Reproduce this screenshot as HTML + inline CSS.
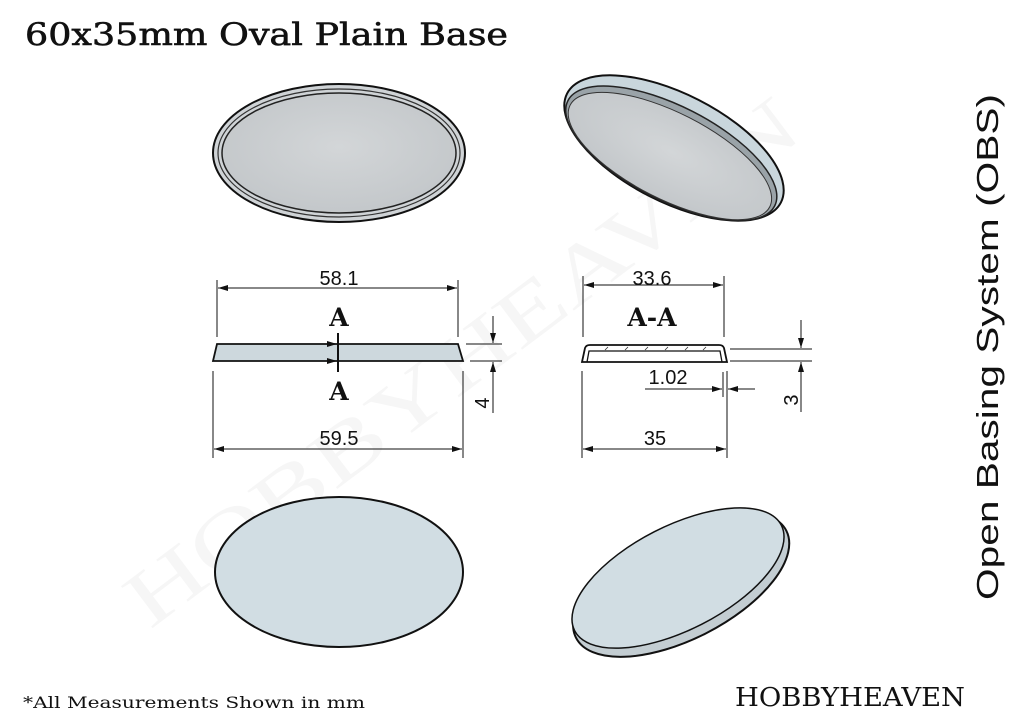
<!DOCTYPE html>
<html><head><meta charset="utf-8"><style>
html,body{margin:0;padding:0;background:#fff;}
svg{display:block;}
</style></head><body>
<svg width="1024" height="724" viewBox="0 0 1024 724" xmlns="http://www.w3.org/2000/svg">
<defs>
<marker id="ar" viewBox="0 0 10 6" refX="10" refY="3" markerWidth="10" markerHeight="6" markerUnits="userSpaceOnUse" orient="auto-start-reverse"><path d="M0,0 L10,3 L0,6 z" fill="#111"/></marker>
<radialGradient id="g1" cx="50%" cy="45%" r="60%"><stop offset="0" stop-color="#d3d6d8"/><stop offset="1" stop-color="#c2c6c9"/></radialGradient>
</defs>
<rect width="1024" height="724" fill="#fff"/>
<text x="0" y="0" transform="translate(150,630) rotate(-37)" font-family="Liberation Serif, serif" font-size="80" fill="#f6f6f6" textLength="820" lengthAdjust="spacingAndGlyphs">HOBBYHEAVEN</text>

<text x="25" y="45" font-family="DejaVu Serif, Liberation Serif, serif" font-size="31" fill="#111" stroke="#111" stroke-width="0.6" textLength="483" lengthAdjust="spacingAndGlyphs">60x35mm Oval Plain Base</text>

<ellipse cx="339" cy="153" rx="126" ry="69" fill="#cfd3d6" stroke="#111" stroke-width="2"/>
<ellipse cx="339" cy="153" rx="121" ry="64" fill="none" stroke="#333" stroke-width="1.2"/>
<ellipse cx="339" cy="153" rx="117" ry="60" fill="url(#g1)" stroke="#222" stroke-width="1.5"/>

<g transform="translate(674,148) rotate(27)">
<ellipse cx="0" cy="0" rx="120" ry="54" fill="#c9d6dc" stroke="#111" stroke-width="2"/>
<ellipse cx="0" cy="6" rx="116" ry="47" fill="#9aa3a8" stroke="#222" stroke-width="1.5"/>
<ellipse cx="0" cy="9" rx="112" ry="43" fill="url(#g1)" stroke="#333" stroke-width="1"/>
</g>

<polygon points="217,344 458,344 463,361 213,361" fill="#cdd8dd" stroke="#111" stroke-width="1.8"/>
<g stroke="#111" stroke-width="1" fill="none">
<line x1="217" y1="280" x2="217" y2="337"/><line x1="458" y1="280" x2="458" y2="337"/>
<line x1="218" y1="288" x2="457" y2="288" marker-start="url(#ar)" marker-end="url(#ar)"/>
<line x1="213" y1="371" x2="213" y2="458"/><line x1="463" y1="371" x2="463" y2="458"/>
<line x1="214" y1="449" x2="462" y2="449" marker-start="url(#ar)" marker-end="url(#ar)"/>
<line x1="338" y1="333" x2="338" y2="372" stroke-width="2"/>
<line x1="318" y1="344" x2="337" y2="344" marker-end="url(#ar)"/>
<line x1="318" y1="361" x2="337" y2="361" marker-end="url(#ar)"/>
<line x1="466" y1="344" x2="502" y2="344"/><line x1="470" y1="361" x2="502" y2="361"/>
<line x1="493" y1="316" x2="493" y2="343" marker-end="url(#ar)"/>
<line x1="493" y1="413" x2="493" y2="362" marker-end="url(#ar)"/>
</g>
<g font-family="Liberation Sans, sans-serif" font-size="20" fill="#111" text-anchor="middle">
<text x="339" y="285">58.1</text>
<text x="339" y="445">59.5</text>
<text x="0" y="0" transform="translate(489,403) rotate(-90)">4</text>
<text x="652" y="285">33.6</text>
<text x="655" y="445">35</text>
<text x="668" y="384">1.02</text>
<text x="0" y="0" transform="translate(798,400) rotate(-90)">3</text>
</g>
<g font-family="DejaVu Serif, Liberation Serif, serif" font-size="25" font-weight="bold" fill="#111" text-anchor="middle">
<text x="339" y="326">A</text>
<text x="339" y="400">A</text>
<text x="652" y="326">A-A</text>
</g>

<path d="M582,362 L585,348 Q586,345 590,345 L719,345 Q723,345 724,348 L727,362 Z" fill="#fff" stroke="#111" stroke-width="1.8"/>
<path d="M587,362 L589,351 L720,351 L722,362" fill="none" stroke="#111" stroke-width="1.3"/>
<g stroke="#333" stroke-width="0.8">
<line x1="605" y1="350" x2="608" y2="347"/><line x1="625" y1="350" x2="628" y2="347"/><line x1="645" y1="350" x2="648" y2="347"/><line x1="665" y1="350" x2="668" y2="347"/><line x1="685" y1="350" x2="688" y2="347"/><line x1="703" y1="350" x2="706" y2="347"/>
</g>
<g stroke="#111" stroke-width="1" fill="none">
<line x1="583" y1="276" x2="583" y2="337"/><line x1="724" y1="276" x2="724" y2="337"/>
<line x1="584" y1="285" x2="723" y2="285" marker-start="url(#ar)" marker-end="url(#ar)"/>
<line x1="582" y1="371" x2="582" y2="458"/><line x1="727" y1="371" x2="727" y2="458"/>
<line x1="583" y1="449" x2="726" y2="449" marker-start="url(#ar)" marker-end="url(#ar)"/>
<line x1="723" y1="372" x2="723" y2="397"/>
<line x1="645" y1="389" x2="722" y2="389" marker-end="url(#ar)"/>
<line x1="755" y1="389" x2="728" y2="389" marker-end="url(#ar)"/>
<line x1="730" y1="349" x2="812" y2="349"/><line x1="730" y1="361" x2="812" y2="361"/>
<line x1="801" y1="320" x2="801" y2="348" marker-end="url(#ar)"/>
<line x1="801" y1="412" x2="801" y2="362" marker-end="url(#ar)"/>
</g>

<ellipse cx="339" cy="572" rx="124" ry="75" fill="#d1dde3" stroke="#111" stroke-width="2"/>

<g transform="translate(678,578) rotate(-27)">
<ellipse cx="0" cy="7" rx="118" ry="55" fill="#c3cdd2" stroke="#111" stroke-width="2"/>
<ellipse cx="0" cy="0" rx="116" ry="52" fill="#d1dde3" stroke="#111" stroke-width="1.5"/>
</g>

<text x="0" y="0" transform="translate(998,600) rotate(-90)" font-family="Liberation Sans, sans-serif" font-size="31" fill="#111" textLength="506" lengthAdjust="spacingAndGlyphs">Open Basing System (OBS)</text>

<text x="23" y="708" font-family="DejaVu Serif, Liberation Serif, serif" font-size="16" fill="#111" textLength="342" lengthAdjust="spacingAndGlyphs">*All Measurements Shown in mm</text>
<text x="735" y="706" font-family="DejaVu Serif, Liberation Serif, serif" font-size="26" fill="#111" textLength="230" lengthAdjust="spacingAndGlyphs">HOBBYHEAVEN</text>
</svg>
</body></html>
